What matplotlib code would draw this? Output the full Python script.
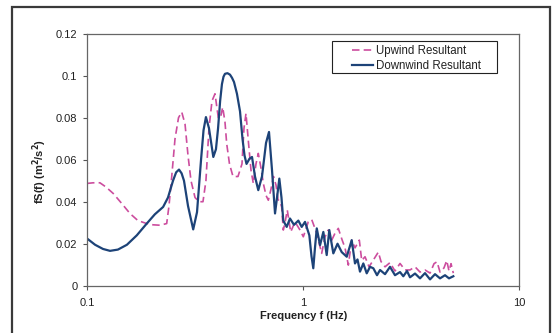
#!/usr/bin/env python3
import matplotlib

matplotlib.use("Agg", force=True)
import matplotlib.pyplot as plt
from matplotlib.patches import Rectangle

# spectra (frequency in Hz, fS(f) in m^2/s^2)
down_freq = [
    0.100, 0.109, 0.1186, 0.1278, 0.139, 0.153, 0.170, 0.189, 0.206, 0.225,
    0.237, 0.250, 0.2585, 0.2665, 0.274, 0.281, 0.2933, 0.310, 0.3228, 0.337,
    0.346, 0.355, 0.3667, 0.384, 0.395, 0.404, 0.413, 0.421, 0.428, 0.4348,
    0.4465, 0.4587, 0.4687, 0.4787, 0.494, 0.5104, 0.524, 0.5355, 0.547, 0.5647,
    0.580, 0.5987, 0.620, 0.645, 0.6733, 0.695, 0.7177, 0.741, 0.757, 0.7758,
    0.7938, 0.8093, 0.8392, 0.869, 0.9071, 0.950, 0.9847, 1.020, 1.068, 1.093,
    1.114, 1.134, 1.156, 1.197, 1.240, 1.285, 1.321, 1.379, 1.442, 1.508,
    1.591, 1.677, 1.737, 1.784, 1.832, 1.898, 1.968, 2.039, 2.112, 2.196,
    2.268, 2.392, 2.522, 2.660, 2.806, 2.906, 3.023, 3.121, 3.292, 3.472,
    3.661, 3.863, 4.074, 4.297, 4.532, 4.729, 4.951,
]
down_val = [
    0.0225, 0.0195, 0.0175, 0.0166, 0.0172, 0.0195, 0.0240, 0.0296, 0.0340, 0.0375,
    0.0420, 0.0500, 0.0540, 0.0553, 0.0535, 0.0500, 0.0380, 0.0268, 0.0350, 0.0600,
    0.0740, 0.0803, 0.0750, 0.0613, 0.0650, 0.0750, 0.0880, 0.0960, 0.0995, 0.1009,
    0.1012, 0.1005, 0.0990, 0.0970, 0.0914, 0.0830, 0.0700, 0.0620, 0.0580, 0.0605,
    0.0613, 0.0520, 0.0455, 0.0520, 0.0680, 0.0732, 0.0550, 0.0344, 0.0420, 0.0510,
    0.0420, 0.0310, 0.0280, 0.0320, 0.0290, 0.0310, 0.0280, 0.0304, 0.0240, 0.0140,
    0.0083, 0.0180, 0.0273, 0.0193, 0.0256, 0.0146, 0.0265, 0.0154, 0.0200, 0.0160,
    0.0138, 0.0217, 0.0106, 0.0125, 0.0067, 0.0106, 0.0059, 0.0090, 0.0083, 0.0050,
    0.0075, 0.0055, 0.0090, 0.0050, 0.0065, 0.0045, 0.0070, 0.0040, 0.0058, 0.0035,
    0.0060, 0.0030, 0.0055, 0.0035, 0.0050, 0.0035, 0.0045,
]

up_freq = [
    0.100, 0.1066, 0.1148, 0.1224, 0.1323, 0.1452, 0.158, 0.1721, 0.189, 0.202,
    0.2177, 0.2337, 0.2395, 0.2465, 0.2554, 0.2651, 0.2743, 0.2841, 0.2933, 0.3028,
    0.316, 0.3297, 0.344, 0.355, 0.3667, 0.3787, 0.391, 0.405, 0.4146, 0.4244,
    0.4348, 0.4428, 0.4562, 0.4736, 0.4994, 0.5212, 0.5324, 0.5439, 0.5587, 0.5737,
    0.5881, 0.605, 0.620, 0.6383, 0.6542, 0.6733, 0.690, 0.710, 0.729, 0.7487,
    0.7648, 0.7813, 0.7955, 0.8093, 0.8241, 0.8446, 0.8756, 0.9168, 0.9669, 1.0016,
    1.056, 1.0955, 1.156, 1.218, 1.262, 1.3075, 1.356, 1.404, 1.454, 1.512,
    1.562, 1.618, 1.677, 1.737, 1.819, 1.866, 1.933, 2.017, 2.105, 2.227,
    2.292, 2.392, 2.522, 2.660, 2.806, 2.959, 3.121, 3.292, 3.472, 3.661,
    3.863, 4.031, 4.162, 4.297, 4.483, 4.614, 4.729, 4.831, 4.951,
]
up_val = [
    0.0487, 0.0490, 0.0490, 0.0470, 0.0439, 0.0390, 0.0344, 0.0310, 0.0296, 0.0290,
    0.0288, 0.0296, 0.0380, 0.0518, 0.0700, 0.0800, 0.0827, 0.0770, 0.0620, 0.0500,
    0.0420, 0.0400, 0.0400, 0.0500, 0.0750, 0.0880, 0.0914, 0.0800, 0.0800, 0.0850,
    0.0780, 0.0677, 0.0580, 0.0520, 0.0520, 0.0580, 0.0750, 0.0820, 0.0680, 0.0550,
    0.0487, 0.0580, 0.0630, 0.0560, 0.0487, 0.0430, 0.0407, 0.0460, 0.0520, 0.0480,
    0.0410, 0.0400, 0.0375, 0.0265, 0.0300, 0.0360, 0.0256, 0.0304, 0.0265, 0.0233,
    0.0304, 0.0315, 0.0249, 0.0154, 0.0233, 0.0265, 0.0217, 0.0250, 0.0273, 0.0220,
    0.0180, 0.0098, 0.0217, 0.0180, 0.0217, 0.0120, 0.0138, 0.0090, 0.0120, 0.0160,
    0.0115, 0.0090, 0.0110, 0.0070, 0.0106, 0.0075, 0.0075, 0.0090, 0.0065, 0.0075,
    0.0060, 0.0105, 0.0114, 0.0065, 0.0085, 0.0120, 0.0070, 0.0105, 0.0060,
]

y_ticks = [0, 0.02, 0.04, 0.06, 0.08, 0.1, 0.12]
y_tick_labels = ["0", "0.02", "0.04", "0.06", "0.08", "0.1", "0.12"]
x_ticks = [0.1, 1, 10]
x_tick_labels = ["0.1", "1", "10"]

plt.rcParams.update(
    {
        "font.family": ["Liberation Sans", "DejaVu Sans"],
        "font.size": 8,
    }
)

fig = plt.figure(figsize=(5.52, 3.33), dpi=100)
ax = fig.add_axes([0.1576, 0.1420, 0.7832, 0.7568])

ax.plot(up_freq, up_val, color="#cc4d9e", lw=1.2, dashes=(4.5, 2.5), label="Upwind Resultant")
ax.plot(down_freq, down_val, color="#1d4378", lw=1.6, label="Downwind Resultant")

ax.set_xscale("log")
ax.set_xlim(0.1, 10)
ax.set_ylim(0, 0.12)
ax.set_xticks(x_ticks, x_tick_labels)
ax.set_yticks(y_ticks, y_tick_labels)
ax.xaxis.set_minor_locator(matplotlib.ticker.NullLocator())
ax.tick_params(axis="both", direction="out", length=3, width=0.8, colors="#555555", labelcolor="#222222")
ax.tick_params(axis="x", pad=6)
ax.tick_params(axis="y", pad=4)
for sp in ax.spines.values():
    sp.set_color("#666666")
    sp.set_linewidth(0.9)

ax.set_xlabel("Frequency f (Hz)", fontweight="bold", color="#222222")
ax.set_ylabel("fS(f) (m$^\\mathbf{2}$/s$^\\mathbf{2}$)", fontweight="bold", color="#222222")
ax.xaxis.set_label_coords(0.5, -0.10)
ax.yaxis.set_label_coords(-0.087, 0.455)

# legend entries without frame, box drawn separately (Excel-style wide padding)
leg = ax.legend(
    loc="upper left",
    bbox_to_anchor=(0.612, 0.957),
    borderaxespad=0,
    borderpad=0,
    handlelength=1.9,
    handletextpad=0.25,
    labelspacing=0.3,
    frameon=False,
    fontsize=8.3,
)
for t in leg.get_texts():
    t.set_color("#222222")
ax.add_patch(
    Rectangle(
        (0.5667, 0.845),
        0.381,
        0.127,
        transform=ax.transAxes,
        fill=False,
        lw=0.8,
        ec="#222222",
        zorder=5,
    )
)

# scanned page frame around the chart, open at the bottom
fig.add_artist(
    Rectangle(
        (12 / 552, -0.1),
        (550 - 12) / 552,
        1.1 - 7 / 333,
        transform=fig.transFigure,
        fill=False,
        lw=1.6,
        ec="#3a3a3a",
        clip_on=False,
    )
)

fig.savefig("out.png", dpi=100)
plt.close(fig)
